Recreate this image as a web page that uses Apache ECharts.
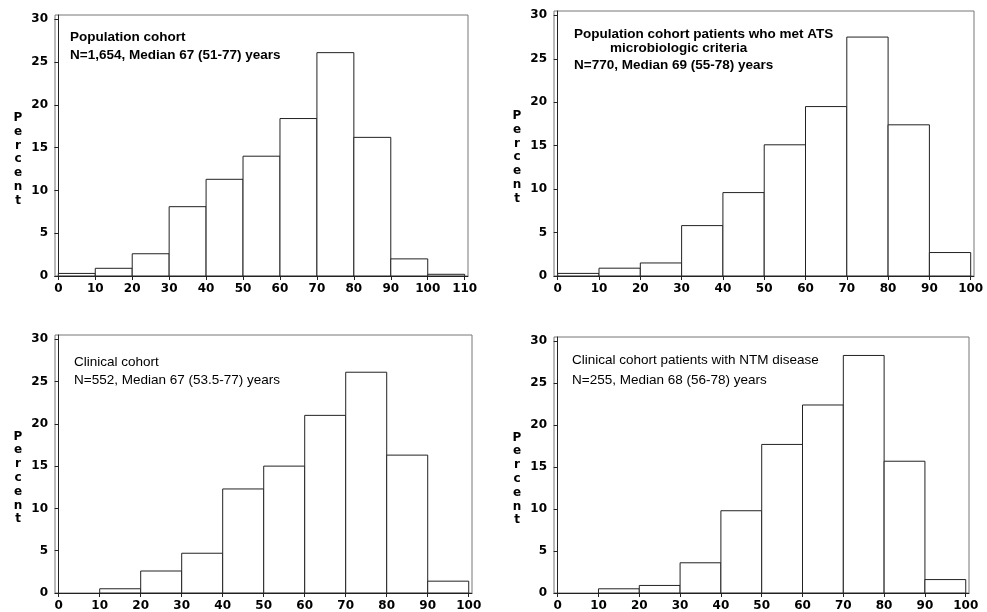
<!DOCTYPE html>
<html>
<head>
<meta charset="utf-8">
<script src="https://cdn.jsdelivr.net/npm/echarts@6/dist/echarts.min.js"></script>
<style>
  html, body { margin: 0; padding: 0; background: #fff; }
  #charts { width: 987px; height: 612px; }
</style>
</head>
<body>
<div id="charts"></div>
<script>
// 数据 (age bins, percent)
var binStarts110 = [0, 10, 20, 30, 40, 50, 60, 70, 80, 90, 100];
var binStarts100 = [0, 10, 20, 30, 40, 50, 60, 70, 80, 90];
var popCohort = [0.3, 0.9, 2.6, 8.1, 11.3, 14.0, 18.4, 26.1, 16.2, 2.0, 0.2];
var popAts = [0.3, 0.9, 1.5, 5.8, 9.6, 15.1, 19.5, 27.5, 17.4, 2.7];
var clinCohort = [0, 0.5, 2.6, 4.7, 12.3, 15.0, 21.0, 26.1, 16.3, 1.4];
var clinNtm = [0, 0.5, 0.9, 3.6, 9.8, 17.7, 22.4, 28.3, 15.7, 1.6];
var yTicks = [0, 5, 10, 15, 20, 25, 30];
var xTicks110 = [0, 10, 20, 30, 40, 50, 60, 70, 80, 90, 100, 110];
var xTicks100 = [0, 10, 20, 30, 40, 50, 60, 70, 80, 90, 100];

var binWidth = 10;
var tickFont = 'DejaVu Sans';

function toBins(starts, values) {
    var out = [];
    for (var i = 0; i < starts.length; i++) {
        if (values[i] > 0) out.push([starts[i], starts[i] + binWidth, values[i]]);
    }
    return out;
}

// 直方图的柱子
function renderBin(params, api) {
    var p0 = api.coord([api.value(0), 0]);
    var p1 = api.coord([api.value(1), api.value(2)]);
    return {
        type: 'rect',
        shape: { x: p0[0], y: p1[1], width: p1[0] - p0[0], height: p0[1] - p1[1] },
        style: { fill: '#fff', stroke: '#222', lineWidth: 1 }
    };
}

var grids = [
    { left: 55, top: 15, right: 519, bottom: 336 },
    { left: 554, top: 11, right: 13, bottom: 336 },
    { left: 55, top: 335, right: 515, bottom: 19 },
    { left: 554, top: 337, right: 18, bottom: 17 }
];

function makeX(idx, max, ticks) {
    return {
        type: 'value', gridIndex: idx, min: -0.9, max: max,
        axisLine: { show: true, onZero: false, lineStyle: { color: '#222', width: 1 } },
        axisTick: { show: true, length: 4, customValues: ticks, lineStyle: { color: '#222' } },
        axisLabel: { customValues: ticks, margin: 7, color: '#000', fontFamily: tickFont, fontWeight: 'bold', fontSize: 12 },
        splitLine: { show: false }
    };
}

function makeY(idx) {
    return {
        type: 'value', gridIndex: idx, min: 0, max: 30.5,
        // 两个空行把字往下挪
        name: '\n\nP\ne\nr\nc\ne\nn\nt', nameLocation: 'middle', nameRotate: 0, nameGap: 37,
        nameTextStyle: { fontFamily: tickFont, fontWeight: 'bold', fontSize: 12, lineHeight: 13.8, color: '#000', align: 'center' },
        axisLine: { show: true, lineStyle: { color: '#222', width: 1 } },
        axisTick: { show: true, length: 4, customValues: yTicks, lineStyle: { color: '#222' } },
        axisLabel: { customValues: yTicks, margin: 7, color: '#000', fontFamily: tickFont, fontWeight: 'bold', fontSize: 12 },
        splitLine: { show: false }
    };
}

var boldTitle = { fontFamily: 'Liberation Sans', fontWeight: 'bold', fontSize: 13.5, color: '#000', lineHeight: 17.5 };
var plainTitle = { fontFamily: 'Liberation Sans', fontWeight: 'normal', fontSize: 13.5, color: '#000', lineHeight: 18.5 };
var plainTitle2 = { fontFamily: 'Liberation Sans', fontWeight: 'normal', fontSize: 13.5, color: '#000', lineHeight: 20 };

var myChart = echarts.init(document.getElementById('charts'));
var option = {
    animation: false,
    backgroundColor: '#fff',
    title: [
        { text: 'Population cohort\nN=1,654, Median 67 (51-77) years', left: 70, top: 29, padding: 0, textStyle: boldTitle },
        { text: 'Population cohort patients who met ATS', left: 574, top: 26, padding: 0, textStyle: boldTitle },
        { text: 'microbiologic criteria', left: 610, top: 40, padding: 0, textStyle: boldTitle },
        { text: 'N=770, Median 69 (55-78) years', left: 574, top: 57, padding: 0, textStyle: boldTitle },
        { text: 'Clinical cohort\nN=552, Median 67 (53.5-77) years', left: 74, top: 353, padding: 0, textStyle: plainTitle },
        { text: 'Clinical cohort patients with NTM disease\nN=255, Median 68 (56-78) years', left: 572, top: 350, padding: 0, textStyle: plainTitle2 }
    ],
    grid: grids.map(function (g) {
        return Object.assign({ show: true, borderColor: '#777', borderWidth: 1, backgroundColor: '#fff' }, g);
    }),
    xAxis: [
        makeX(0, 110.9, xTicks110),
        makeX(1, 100.8, xTicks100),
        makeX(2, 100.8, xTicks100),
        makeX(3, 100.8, xTicks100)
    ],
    yAxis: [makeY(0), makeY(1), makeY(2), makeY(3)],
    series: [
        { type: 'custom', xAxisIndex: 0, yAxisIndex: 0, renderItem: renderBin, encode: { x: [0, 1], y: 2 }, data: toBins(binStarts110, popCohort) },
        { type: 'custom', xAxisIndex: 1, yAxisIndex: 1, renderItem: renderBin, encode: { x: [0, 1], y: 2 }, data: toBins(binStarts100, popAts) },
        { type: 'custom', xAxisIndex: 2, yAxisIndex: 2, renderItem: renderBin, encode: { x: [0, 1], y: 2 }, data: toBins(binStarts100, clinCohort) },
        { type: 'custom', xAxisIndex: 3, yAxisIndex: 3, renderItem: renderBin, encode: { x: [0, 1], y: 2 }, data: toBins(binStarts100, clinNtm) }
    ]
};
myChart.setOption(option);
</script>
</body>
</html>
